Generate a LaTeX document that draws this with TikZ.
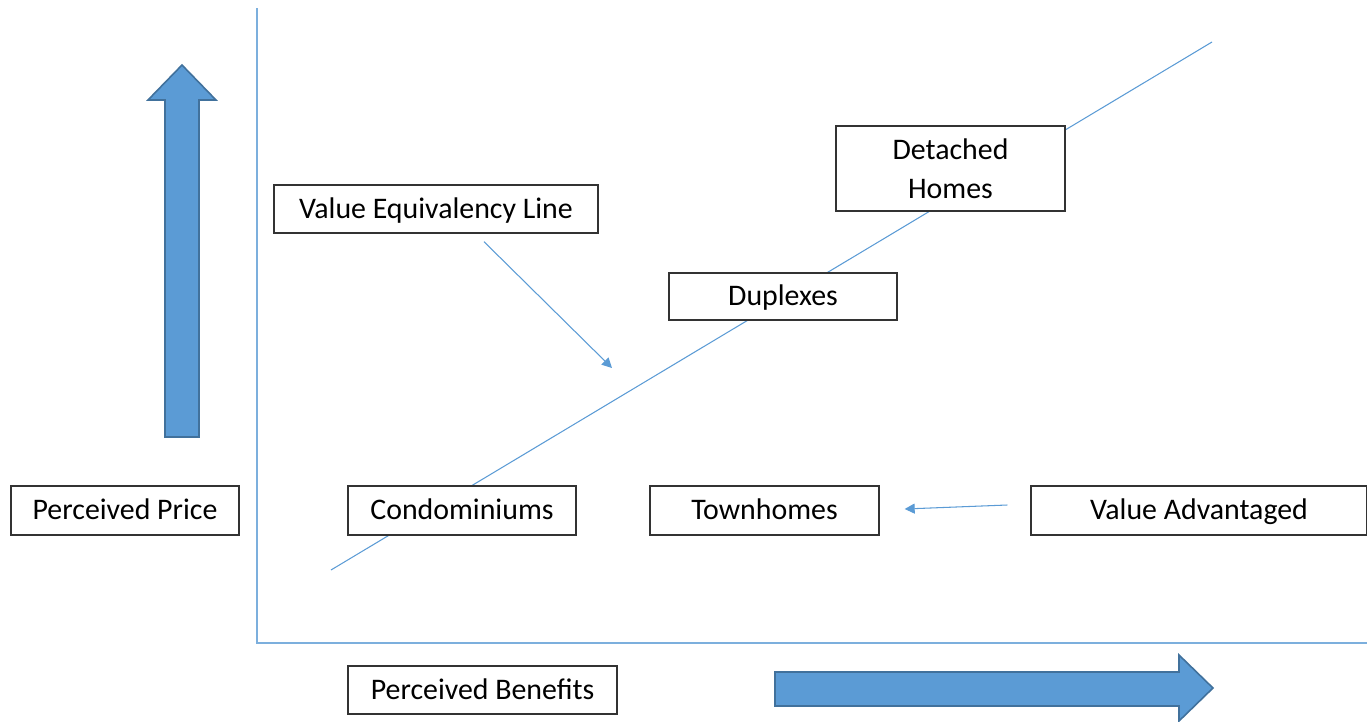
\documentclass[tikz,border=0pt]{standalone}
\usepackage{fontspec}
\setmainfont{Carlito}
\usepackage{tikz}
\usetikzlibrary{positioning,arrows.meta,calc}
\definecolor{officeblue}{RGB}{91,155,213}
\definecolor{edgeblue}{RGB}{65,113,156}

\begin{document}
\begin{tikzpicture}[x=0.02cm, y=-0.02cm,
    label box/.style={rectangle, draw=black!80, line width=0.8pt, fill=white, inner sep=2pt,
        font=\fontsize{17}{22}\selectfont, text height=15.6pt, text depth=4.8pt, minimum height=0.98cm},
    axis line/.style={officeblue!80, line width=0.6pt},
    pointer/.style={-{Triangle[length=2mm, width=2mm]}, officeblue, line width=0.6pt},
    big arrow/.style={fill=officeblue, draw=edgeblue, line width=0.9pt, line join=miter}
]
\useasboundingbox (0,0) rectangle (1367,721);

% Axes
\draw[axis line] (257,8) -- (257,643) -- (1367,643);

% Direction arrows
\draw[big arrow] (165,437) -- (165,100) -- (148,100) -- (182,65) -- (216,100)
    -- (199,100) -- (199,437) -- cycle;
\draw[big arrow] (775,672) -- (1179,672) -- (1179,655) -- (1213,688) -- (1179,721)
    -- (1179,706) -- (775,706) -- cycle;

% Value equivalency line
\coordinate (vl0) at (331,570);
\coordinate (vl1) at (1212,42);
\draw[officeblue, line width=0.6pt] (vl0) -- (vl1);

% Boxes
\node[label box, minimum width=4.56cm] (price) at (125,510.5) {Perceived Price};
\node[label box, minimum width=6.48cm, minimum height=0.96cm] (veq) at (436,209) {Value Equivalency Line};
\node[label box, minimum width=4.58cm, minimum height=1.70cm, align=center, text height=, text depth=] (detached) at (950.5,168.5) {Detached\\Homes};
\node[label box, minimum width=4.56cm, minimum height=0.94cm] (duplex) at (783,296.5) {Duplexes};
\node[label box, minimum width=4.56cm] (condo) at (462,510.5) {Condominiums};
\node[label box, minimum width=4.58cm] (town) at (764.5,510.5) {Townhomes};
\node[label box, minimum width=6.72cm] (adv) at (1199,510.5) {Value Advantaged};
\node[label box, minimum width=5.38cm, minimum height=0.96cm] (benefits) at (482.5,690) {Perceived Benefits};

% Pointers
\coordinate (eqtip) at (612,368);
\draw[pointer] ([xshift=0.96cm, yshift=-0.16cm]veq.south) -- (eqtip);
\draw[pointer] ([xshift=-0.46cm, yshift=0.11cm]adv.west) -- ([xshift=0.5cm, yshift=0.03cm]town.east);

\end{tikzpicture}
\end{document}
